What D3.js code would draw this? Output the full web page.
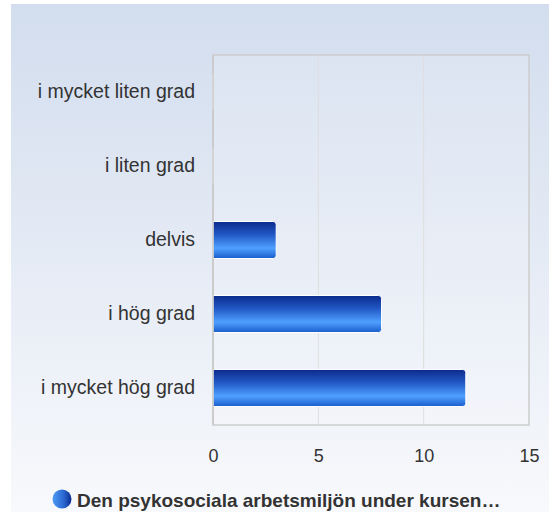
<!DOCTYPE html>
<html>
<head>
<meta charset="utf-8">
<script src="https://cdn.jsdelivr.net/npm/d3@7"></script>
<style>
  body { margin: 0; background: #fff; }
  text { font-family: "Liberation Sans", Arial, sans-serif; }
</style>
</head>
<body>
<div id="chart"></div>
<script>
let categories = ["i mycket liten grad", "i liten grad", "delvis", "i hög grad", "i mycket hög grad"];
let values = [0, 0, 3, 8, 12];
let xTicks = [0, 5, 10, 15];
let seriesName = "Den psykosociala arbetsmiljön under kursen…";

let width = 549, height = 512;
let margin = {top: 55, left: 213};
let plot_w = 529 - margin.left;
let plot_h = 425 - margin.top;

let svg = d3.select("#chart")
            .append("svg")
            .attr("width", width)
            .attr("height", height);

let defs = svg.append("defs");
let bg = defs.append("linearGradient").attr("id", "bg")
             .attr("x1", 0).attr("y1", 0).attr("x2", 0).attr("y2", 1);
bg.append("stop").attr("offset", "0%").attr("stop-color", "#d2ddee");
bg.append("stop").attr("offset", "100%").attr("stop-color", "#f8f9fc");

let barGrad = defs.append("linearGradient").attr("id", "barGrad")
                  .attr("x1", 0).attr("y1", 0).attr("x2", 0).attr("y2", 1);
barGrad.append("stop").attr("offset", "0%").attr("stop-color", "#0b2a8c");
barGrad.append("stop").attr("offset", "35%").attr("stop-color", "#2157c4");
barGrad.append("stop").attr("offset", "72%").attr("stop-color", "#4fa0ff");
barGrad.append("stop").attr("offset", "100%").attr("stop-color", "#1a5ccc");

let dotGrad = defs.append("linearGradient").attr("id", "dotGrad")
                  .attr("x1", 0).attr("y1", 0).attr("x2", 1).attr("y2", 0);
dotGrad.append("stop").attr("offset", "0%").attr("stop-color", "#4d9cf5");
dotGrad.append("stop").attr("offset", "60%").attr("stop-color", "#2a66d0");
dotGrad.append("stop").attr("offset", "100%").attr("stop-color", "#0b2a8c");

// background
svg.append("rect")
   .attr("x", 11).attr("y", 4)
   .attr("width", width - 11).attr("height", height - 4)
   .attr("fill", "url(#bg)");

let g = svg.append("g")
           .attr("transform", "translate(" + margin.left + "," + margin.top + ")");

let x = d3.scaleLinear()
          .domain([0, 15])
          .range([0, plot_w]);

let y = d3.scaleBand()
          .domain(categories)
          .range([0, plot_h])
          .paddingInner(0.5)
          .paddingOuter(0.25);

// plot area
g.append("rect")
 .attr("width", plot_w).attr("height", plot_h)
 .attr("fill", "#ffffff").attr("fill-opacity", 0.15)
 .attr("stroke", "#cccccc").attr("stroke-width", 1.5);

// gridlines
g.selectAll(".grid")
 .data(xTicks.slice(1, -1))
 .enter().append("line")
 .attr("x1", d => x(d)).attr("x2", d => x(d))
 .attr("y1", 0).attr("y2", plot_h)
 .attr("stroke", "#dedede").attr("stroke-width", 1);

// x tick labels
let xAxis = g.append("g")
             .attr("transform", "translate(0," + plot_h + ")")
             .call(d3.axisBottom(x).tickValues(xTicks).tickSize(0).tickPadding(24));
xAxis.select(".domain").remove();
xAxis.selectAll("text")
     .style("font-size", "18px")
     .attr("fill", "#333333");

// y labels
let yAxis = g.append("g")
             .call(d3.axisLeft(y).tickSize(0).tickPadding(18));
yAxis.select(".domain").remove();
yAxis.selectAll("text")
     .style("font-size", "19.5px")
     .attr("fill", "#333333");

// bars, rounded on the right end
let r = 3;
function barPath(d) {
  let y0 = y(d.cat), h = y.bandwidth(), w = x(d.val);
  if (w <= r) return "M0," + y0 + "h" + w + "v" + h + "h" + (-w) + "Z";
  return "M0," + y0 + "H" + (w - r) +
         "Q" + w + "," + y0 + " " + w + "," + (y0 + r) +
         "V" + (y0 + h - r) +
         "Q" + w + "," + (y0 + h) + " " + (w - r) + "," + (y0 + h) +
         "H0Z";
}
g.selectAll(".bar")
 .data(categories.map((c, i) => ({cat: c, val: values[i]})))
 .enter().append("path")
 .attr("class", "bar")
 .attr("d", barPath)
 .attr("fill", "url(#barGrad)")
 .attr("stroke", "#ffffff")
 .attr("stroke-width", 1);

// left axis line
g.append("line")
 .attr("x1", 0).attr("x2", 0)
 .attr("y1", 0).attr("y2", plot_h)
 .attr("stroke", "#c8c8c8").attr("stroke-width", 1.5);

// legend
let legend = svg.append("g").attr("transform", "translate(62,499)");
legend.append("circle")
      .attr("r", 9.5)
      .attr("fill", "url(#dotGrad)");
legend.append("text")
      .attr("x", 15)
      .attr("y", 7.5)
      .style("font-size", "19px")
      .style("font-weight", "bold")
      .attr("fill", "#333333")
      .text(seriesName);
</script>
</body>
</html>
